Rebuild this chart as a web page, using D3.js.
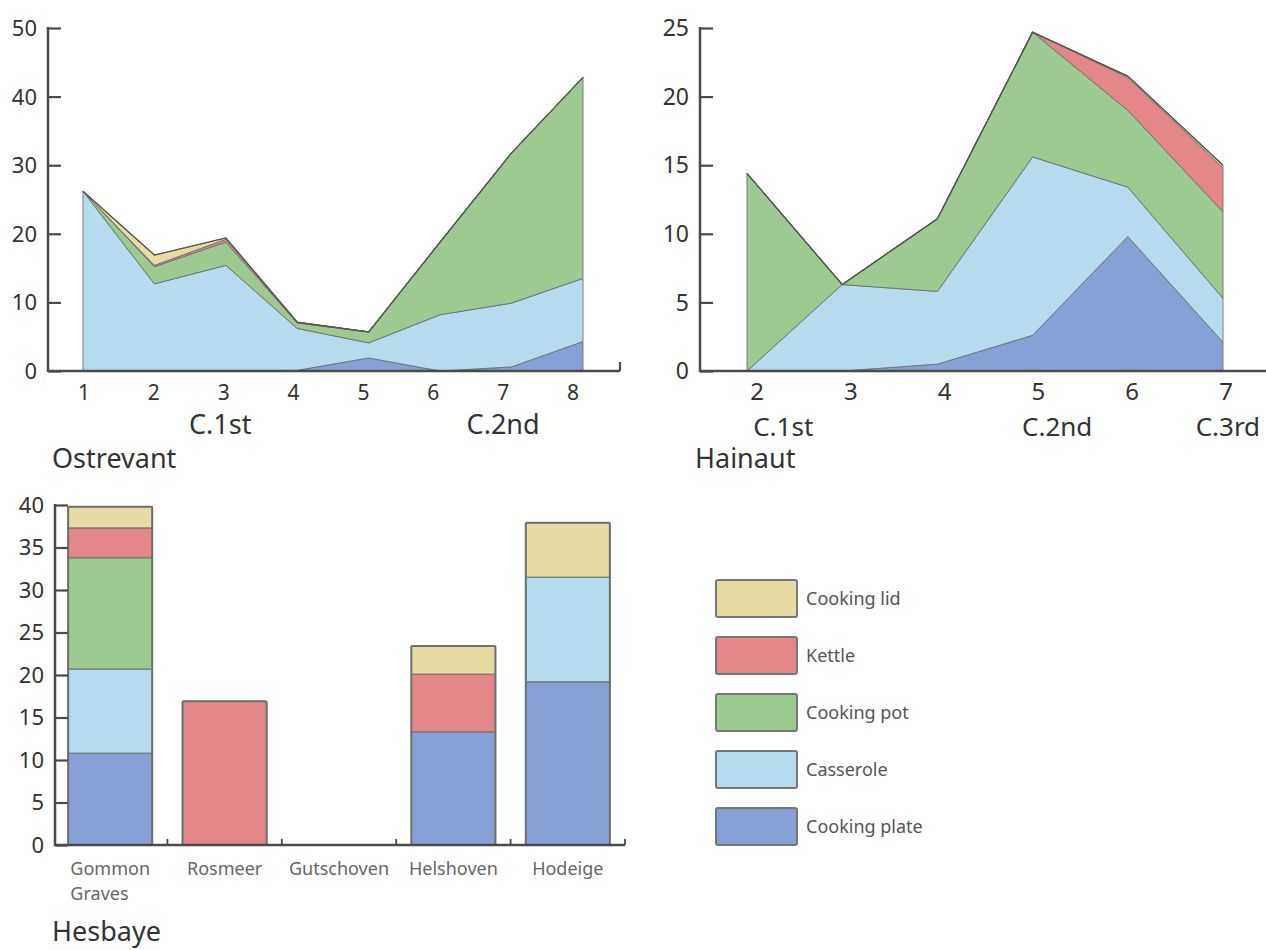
<!DOCTYPE html>
<html><head><meta charset="utf-8">
<script src="https://cdn.jsdelivr.net/npm/d3@7/dist/d3.min.js"></script>
<style>
body{margin:0;background:#fff;}
svg{display:block;font-family:"Noto Sans",sans-serif;}
</style></head>
<body><svg id="c" width="1266" height="950"></svg>
<script>
// ---- data ----
const seriesNames = ["Cooking plate","Casserole","Cooking pot","Kettle","Cooking lid"];
const seriesColors = ["#87a0d6","#b4dcee","#9dca90","#e3878a","#e5dba3"];

// Ostrevant
const ostX = [1,2,3,4,5,6,7,8];
const ostPlate     = [0, 0, 0, 0.1, 1.9, 0, 0.6, 4.3];
const ostCasserole = [26.2, 12.7, 15.4, 6.1, 2.2, 8.2, 9.3, 9.2];
const ostPot       = [0, 2.5, 3.4, 0.8, 1.6, 10.6, 21.9, 29.3];
const ostKettle    = [0, 0.2, 0.4, 0.1, 0, 0, 0, 0];
const ostLid       = [0, 1.5, 0.2, 0, 0, 0, 0, 0];
const ostYTicks = [0,10,20,30,40,50];
const ostCentury = [{label:"C.1st", x:2.95},{label:"C.2nd", x:7.0}];

// Hainaut
const haiX = [2,3,4,5,6,7];
const haiPlate     = [0, 0, 0.5, 2.6, 9.8, 2.1];
const haiCasserole = [0, 6.3, 5.3, 13.0, 3.6, 3.2];
const haiPot       = [14.4, 0, 5.3, 9.1, 5.6, 6.3];
const haiKettle    = [0, 0, 0, 0, 2.4, 3.2];
const haiLid       = [0, 0, 0, 0, 0.1, 0.2];
const haiYTicks = [0,5,10,15,20,25];
const haiCentury = [{label:"C.1st", x:2.28},{label:"C.2nd", x:5.2},{label:"C.3rd", x:7.02}];

// Hesbaye
const hesSites = ["Gommon Graves","Rosmeer","Gutschoven","Helshoven","Hodeige"];
const hesPlate     = [10.8, 0, 0, 13.3, 19.2];
const hesCasserole = [9.9, 0, 0, 0, 12.3];
const hesPot       = [13.1, 0, 0, 0, 0];
const hesKettle    = [3.5, 16.9, 0, 6.8, 0];
const hesLid       = [2.5, 0, 0, 3.3, 6.4];
const hesYTicks = [0,5,10,15,20,25,30,35,40];

const svg = d3.select("#c");
const AX = "#4a4a4a";
const TXT = "#333";

function rows(xs, arrs){
  return xs.map((x,i)=>{const r={x}; seriesNames.forEach((n,k)=>r[n]=arrs[k][i]); return r;});
}

function areaChart(o){
  const g = svg.append("g");
  const x = d3.scaleLinear().domain(o.xDomain).range(o.xRange);
  const xl = d3.scaleLinear().domain(o.xDomain).range(o.labelRange);
  const y = d3.scaleLinear().domain(o.yDomain).range(o.yRange);
  const data = rows(o.xs, o.arrs);
  const stack = d3.stack().keys(seriesNames)(data);
  const area = d3.area().x(d=>x(d.data.x)).y0(d=>y(d[0])).y1(d=>y(d[1]));
  g.selectAll("path.a").data(stack).join("path")
    .attr("d", area)
    .attr("fill",(d,i)=>seriesColors[i])
    .attr("stroke","#6f6f6f").attr("stroke-width",0.9).attr("stroke-linejoin","round");
  const top = stack[stack.length-1];
  g.append("path").datum(top)
    .attr("d", d3.line().x(d=>x(d.data.x)).y(d=>y(d[1])))
    .attr("fill","none").attr("stroke","#555").attr("stroke-width",1.4);
  // y axis
  const ya = d3.axisRight(y).tickValues(o.yTicks).tickSize(13).tickFormat("");
  const yg = g.append("g").attr("transform",`translate(${o.yAxisX},0)`).call(ya);
  yg.select(".domain").remove();
  yg.selectAll(".tick line").attr("stroke",AX).attr("stroke-width",2.2);
  g.append("line").attr("x1",o.yAxisX).attr("x2",o.yAxisX).attr("y1",y(o.yDomain[1])-1).attr("y2",y(0)+1)
    .attr("stroke",AX).attr("stroke-width",2.5);
  g.selectAll("text.yt").data(o.yTicks).join("text")
    .attr("x",o.yAxisX-11).attr("y",d=>y(d)).attr("dy","0.36em")
    .attr("text-anchor","end").attr("font-size",o.yFont).attr("fill",TXT).text(d=>d);
  // x axis line
  g.append("line").attr("x1",o.yAxisX).attr("x2",o.xAxisEnd).attr("y1",y(0)).attr("y2",y(0))
    .attr("stroke",AX).attr("stroke-width",2.5);
  if(o.endTick){
    g.append("line").attr("x1",o.xAxisEnd).attr("x2",o.xAxisEnd).attr("y1",y(0)).attr("y2",y(0)-9)
      .attr("stroke",AX).attr("stroke-width",2.2);
  }
  g.selectAll("text.xt").data(o.xs).join("text")
    .attr("x",d=>xl(d)).attr("y",o.xLabelY)
    .attr("text-anchor","middle").attr("font-size",o.xFont).attr("fill",TXT).text(d=>d);
  g.selectAll("text.cen").data(o.century).join("text")
    .attr("x",d=>xl(d.x)).attr("y",o.centuryY)
    .attr("text-anchor","middle").attr("font-size",o.centuryFont).attr("fill",TXT).text(d=>d.label);
  g.append("text").attr("x",o.titleX).attr("y",o.titleY)
    .attr("font-size",27).attr("fill",TXT).text(o.title);
}

areaChart({
  xs: ostX, arrs:[ostPlate,ostCasserole,ostPot,ostKettle,ostLid],
  xDomain:[1,8], xRange:[83,583], labelRange:[84,573],
  yDomain:[0,50], yRange:[371,28], yTicks: ostYTicks, yAxisX:48, xAxisEnd:620, endTick:true,
  yFont:22, xFont:21, xLabelY:400, century: ostCentury, centuryY:434, centuryFont:27,
  title:"Ostrevant", titleX:52, titleY:468
});

areaChart({
  xs: haiX, arrs:[haiPlate,haiCasserole,haiPot,haiKettle,haiLid],
  xDomain:[2,7], xRange:[747,1223], labelRange:[757,1226],
  yDomain:[0,25], yRange:[371,28], yTicks: haiYTicks, yAxisX:700, xAxisEnd:1266, endTick:false,
  yFont:23, xFont:24, xLabelY:400, century: haiCentury, centuryY:436, centuryFont:26,
  title:"Hainaut", titleX:695, titleY:468
});

// ---- Hesbaye bars ----
(function(){
  const g = svg.append("g");
  const x = d3.scaleBand().domain(hesSites).range([53,625]).paddingInner(0.265).paddingOuter(0.1325);
  const y = d3.scaleLinear().domain([0,40]).range([845,505]);
  const data = hesSites.map((s,i)=>{const r={site:s}; [hesPlate,hesCasserole,hesPot,hesKettle,hesLid].forEach((a,k)=>r[seriesNames[k]]=a[i]); return r;});
  const stack = d3.stack().keys(seriesNames)(data);
  stack.forEach((layer,i)=>{
    g.selectAll(null).data(layer.filter(d=>d[1]-d[0]>0)).join("rect")
      .attr("x",d=>x(d.data.site)).attr("width",x.bandwidth())
      .attr("y",d=>y(d[1])).attr("height",d=>y(d[0])-y(d[1]))
      .attr("fill",seriesColors[i]).attr("stroke","#777").attr("stroke-width",1.2);
  });
  const totals = data.map(d=>({site:d.site,t:d3.sum(seriesNames,n=>d[n])})).filter(d=>d.t>0);
  g.selectAll(null).data(totals).join("rect")
    .attr("x",d=>x(d.site)).attr("width",x.bandwidth())
    .attr("y",d=>y(d.t)).attr("height",d=>y(0)-y(d.t))
    .attr("fill","none").attr("stroke","#707070").attr("stroke-width",2).attr("rx",1.5);
  // y axis
  const yg = g.append("g").attr("transform","translate(55,0)")
    .call(d3.axisRight(y).tickValues(hesYTicks).tickSize(13).tickFormat(""));
  yg.select(".domain").remove();
  yg.selectAll(".tick line").attr("stroke",AX).attr("stroke-width",2.2);
  g.append("line").attr("x1",55).attr("x2",55).attr("y1",y(40)-1).attr("y2",y(0)+1).attr("stroke",AX).attr("stroke-width",2.5);
  g.selectAll("text.yt").data(hesYTicks).join("text")
    .attr("x",44).attr("y",d=>y(d)).attr("dy","0.36em").attr("text-anchor","end")
    .attr("font-size",22).attr("fill",TXT).text(d=>d);
  // x axis
  g.append("line").attr("x1",55).attr("x2",625).attr("y1",y(0)).attr("y2",y(0)).attr("stroke",AX).attr("stroke-width",2.5);
  const bounds = hesSites.map(s=>x(s)+x.bandwidth()+x.step()*x.paddingInner()/2);
  g.selectAll(null).data(bounds).join("line")
    .attr("x1",d=>d).attr("x2",d=>d).attr("y1",y(0)).attr("y2",y(0)-6)
    .attr("stroke",AX).attr("stroke-width",1.8);
  hesSites.forEach(s=>{
    const words = s.split(" ");
    const cx = x(s)+x.bandwidth()/2;
    const t = g.append("text").attr("font-size",18).attr("fill","#666").attr("y",875)
      .attr("x",cx).attr("text-anchor","middle").text(words[0]);
    if(words.length>1){
      const w = t.node().getComputedTextLength();
      g.append("text").attr("font-size",18).attr("fill","#666").attr("y",900)
        .attr("x",cx-w/2).text(words.slice(1).join(" "));
    }
  });
  g.append("text").attr("x",52).attr("y",941).attr("font-size",27).attr("fill",TXT).text("Hesbaye");
})();

// ---- legend ----
(function(){
  const g = svg.append("g");
  const order = seriesNames.map((n,i)=>({n,c:seriesColors[i]})).reverse();
  const ly = d3.scaleBand().domain(order.map(d=>d.n)).range([580,845]).paddingInner(0.351).paddingOuter(0);
  g.selectAll("rect").data(order).join("rect")
    .attr("x",716).attr("y",d=>ly(d.n)).attr("width",81).attr("height",ly.bandwidth()).attr("rx",2)
    .attr("fill",d=>d.c).attr("stroke","#777").attr("stroke-width",2);
  g.selectAll("text").data(order).join("text")
    .attr("x",806).attr("y",d=>ly(d.n)+ly.bandwidth()/2).attr("dy","0.36em")
    .attr("font-size",18).attr("fill","#555").text(d=>d.n);
})();
</script></body></html>
